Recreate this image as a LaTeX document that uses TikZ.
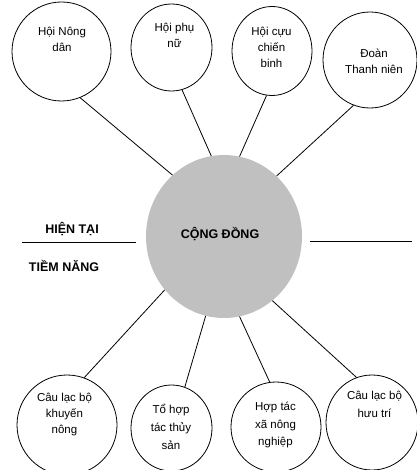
\documentclass[tikz,border=0pt]{standalone}
\usepackage{fontspec}
\setmainfont{Liberation Sans}
\usetikzlibrary{shapes.geometric}
\definecolor{hubgray}{RGB}{192,192,192}
\tikzset{
  orb/.style={ellipse, draw=black, line width=0.8pt, inner sep=0pt, fill=white},
  hub/.style={ellipse, fill=hubgray, draw=none, inner sep=0pt},
  txt/.style={align=center, font=\fontsize{11.5}{16}\selectfont, inner sep=0pt},
  btxt/.style={font=\fontsize{12.5}{15}\selectfont\bfseries, inner sep=0pt},
  link/.style={draw=black, line width=0.8pt},
}
\begin{document}
\begin{tikzpicture}[x=1pt,y=-1pt]
\useasboundingbox (0,0) rectangle (416,470);
% hub
\node[hub, minimum width=156pt, minimum height=163pt] (hub) at (224,236.5) {};
\node[btxt] (hubt) at (220,234) {CỘNG ĐỒNG};
% top circles
\node[orb, minimum width=99pt, minimum height=99pt] (c1) at (61.5,51.5) {};
\node[orb, minimum width=81pt, minimum height=87pt] (c2) at (171.5,47.5) {};
\node[orb, minimum width=80pt, minimum height=89pt] (c3) at (272,51) {};
\node[orb, minimum width=94pt, minimum height=96pt] (c4) at (370,60) {};
% bottom circles
\node[orb, minimum width=100pt, minimum height=100pt] (c5) at (67,425) {};
\node[orb, minimum width=81pt, minimum height=86pt] (c6) at (171.5,428) {};
\node[orb, minimum width=90pt, minimum height=90pt] (c7) at (276,427) {};
\node[orb, minimum width=92pt, minimum height=95pt] (c8) at (372,422.5) {};
% texts
\node[txt] (t1) at (62,39.5) {Hội Nông\\dân};
\node[txt] (t2) at (174.5,35) {Hội phụ\\nữ};
\node[txt] (t3) at (271.5,47) {Hội cựu\\chiến\\binh};
\node[txt] (t4) at (374,61) {Đoàn\\Thanh niên};
\node[txt] (t5) at (64.5,415) {Câu lạc bộ\\khuyến\\nông};
\node[txt, font=\fontsize{11.5}{18}\selectfont] (t6) at (171,427) {Tổ hợp\\tác thủy\\sản};
\node[txt, font=\fontsize{11.5}{17.5}\selectfont] (t7) at (275.5,425) {Hợp tác\\xã nông\\nghiệp};
\node[txt, font=\fontsize{11.5}{18}\selectfont] (t8) at (374.5,404) {Câu lạc bộ\\hưu trí};
% connectors
\draw[link] (c1.-68.7) -- (hub.130.2);
\draw[link] (c2.-76.4) -- (hub.99.7);
\draw[link] (c3.-97.8) -- (hub.79.6);
\draw[link] (c4.-110.3) -- (hub.49.2);
\draw[link] (c5.70) -- (hub.-138.2);
\draw[link] (c6.72.6) -- (hub.-103.2);
\draw[link] (c7.98) -- (hub.-79.5);
\draw[link] (c8.109.8) -- (hub.-53.5);
% side lines and labels
\coordinate (la) at (22,242);
\coordinate (lb) at (136,242);
\coordinate (ra) at (310,241);
\coordinate (rb) at (412,241);
\draw[link] (la) -- (lb);
\draw[link] (ra) -- (rb);
\node[btxt] (now) at (72,229) {HIỆN TẠI};
\node[btxt] (pot) at (64,266) {TIỀM NĂNG};
\end{tikzpicture}
\end{document}
